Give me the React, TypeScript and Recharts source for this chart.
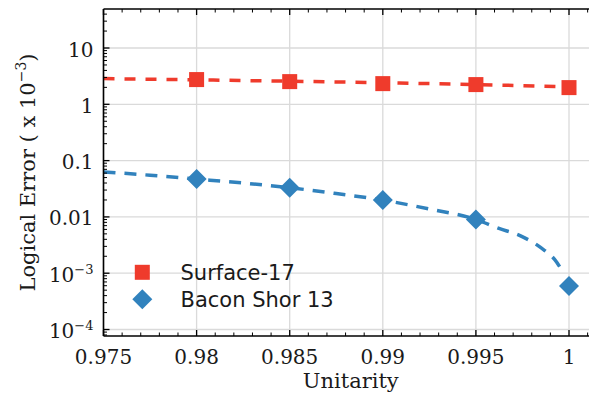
import React from 'react';
import { ComposedChart, Line, Scatter, XAxis, YAxis, CartesianGrid, ReferenceLine } from 'recharts';

// ---- data ----
const seriesNames = ['Surface-17', 'Bacon Shor 13'];
const unitarity = [0.98, 0.985, 0.99, 0.995, 1.0];
const surface17 = [2.75, 2.53, 2.33, 2.24, 1.98];
const baconShor13 = [0.047, 0.033, 0.0199, 0.009, 0.00059];

const surfaceFitX = [0.975, 0.98, 0.985, 0.99, 0.995, 1.0];
const surfaceFitY = [2.86, 2.72, 2.57, 2.42, 2.24, 2.05];

const baconFitX = [0.975, 0.9775, 0.98, 0.9825, 0.985, 0.9875, 0.99, 0.9925, 0.995, 0.9962, 0.9974, 0.99845, 0.99935, 0.9995];
const baconFitY = [0.063, 0.055, 0.047, 0.04, 0.033, 0.026, 0.0199, 0.0138, 0.009, 0.0063, 0.0046, 0.0029, 0.00155, 0.0013];

const xTicks = [0.975, 0.98, 0.985, 0.99, 0.995, 1.0];
const xTickLabels = ['0.975', '0.98', '0.985', '0.99', '0.995', '1'];
const xMinorTicks = [0.976, 0.977, 0.978, 0.979, 0.981, 0.982, 0.983, 0.984, 0.986, 0.987, 0.988, 0.989, 0.991, 0.992, 0.993, 0.994, 0.996, 0.997, 0.998, 0.999, 1.001];

const yTicks = [1e-4, 1e-3, 0.01, 0.1, 1, 10];
const yTickLabels = ['10^\u22124', '10^\u22123', '0.01', '0.1', '1', '10'];
const yMinorTicks = [
  8e-5, 9e-5,
  2e-4, 3e-4, 4e-4, 5e-4, 6e-4, 7e-4, 8e-4, 9e-4,
  2e-3, 3e-3, 4e-3, 5e-3, 6e-3, 7e-3, 8e-3, 9e-3,
  0.02, 0.03, 0.04, 0.05, 0.06, 0.07, 0.08, 0.09,
  0.2, 0.3, 0.4, 0.5, 0.6, 0.7, 0.8, 0.9,
  2, 3, 4, 5, 6, 7, 8, 9,
  20, 30, 40,
];

const xDomain: [number, number] = [0.975, 1.00145];
const yDomain: [number, number] = [7.67e-5, 49.3];

// ---- layout ----
const W = 589;
const H = 386;
const M_TOP = 1;
const M_RIGHT = 1;
const Y_AXIS_W = 95.5;
const X_AXIS_H = 58;

const RED = '#EF3B2C';
const BLUE = '#3182BD';
const seriesColors = [RED, BLUE];
const SERIF = 'DejaVu Serif';
const SANS = 'DejaVu Sans';
const INK = '#1a1a1a';

const surfacePoints = unitarity.map((x, i) => ({ x, y: surface17[i] }));
const baconPoints = unitarity.map((x, i) => ({ x, y: baconShor13[i] }));
const surfaceFit = surfaceFitX.map((x, i) => ({ x, y: surfaceFitY[i] }));
const baconFit = baconFitX.map((x, i) => ({ x, y: baconFitY[i] }));

const allXTicks = [...xTicks, ...xMinorTicks].sort((a, b) => a - b);
const allYTicks = [...yTicks, ...yMinorTicks].sort((a, b) => a - b);

const majorIndex = (v: number, majors: number[]) =>
  majors.findIndex((m) => Math.abs(m - v) <= Math.abs(m) * 1e-9 + 1e-12);

const SquareShape = (p: any) => (
  <rect x={p.cx - 7.5} y={p.cy - 7.5} width={15} height={15} fill={RED} />
);
const DiamondShape = (p: any) => (
  <polygon
    points={`${p.cx},${p.cy - 10} ${p.cx + 10},${p.cy} ${p.cx},${p.cy + 10} ${p.cx - 10},${p.cy}`}
    fill={BLUE}
  />
);

const MAJ = 6;
const MIN = 3.5;

// bottom axis tick: label (major only) + inward marks on bottom and top frame
const XTick = (p: any) => {
  const v = p.payload ? p.payload.value : 0;
  const mi = majorIndex(v, xTicks);
  const len = mi >= 0 ? MAJ : MIN;
  const sw = mi >= 0 ? 1.3 : 1;
  return (
    <g>
      <rect x={p.x - sw / 2} y={p.y - len} width={sw} height={len} fill="#000" />
      <rect x={p.x - sw / 2} y={M_TOP} width={sw} height={len} fill="#000" />
      {mi >= 0 && (
        <text x={p.x} y={p.y + 28} textAnchor="middle" fontFamily={SERIF} fontSize={20} fill={INK}>
          {xTickLabels[mi]}
        </text>
      )}
    </g>
  );
};

// left axis tick: label (major only) + inward marks on left and right frame
const YTick = (p: any) => {
  const v = p.payload ? p.payload.value : 0;
  const mi = majorIndex(v, yTicks);
  const len = mi >= 0 ? MAJ : MIN;
  const sw = mi >= 0 ? 1.3 : 1;
  const axisX = p.x + 10;
  const rightX = W - M_RIGHT;
  const lab = mi >= 0 ? yTickLabels[mi] : '';
  const [base, exp] = lab.split('^');
  return (
    <g>
      <rect x={axisX} y={p.y - sw / 2} width={len} height={sw} fill="#000" />
      <rect x={rightX - len} y={p.y - sw / 2} width={len} height={sw} fill="#000" />
      {mi >= 0 && (
        <text x={p.x} y={p.y + 8.5} textAnchor="end" fontFamily={SERIF} fontSize={20} fill={INK}>
          {base}
          {exp && (
            <tspan fontSize={13} dy={-8}>
              {exp}
            </tspan>
          )}
        </text>
      )}
    </g>
  );
};

// axis titles and legend, drawn in an overlay with the chart's own coordinates
const Overlay = () => {
  const plotCx = Y_AXIS_W + (W - M_RIGHT - Y_AXIS_W) / 2;
  const plotCy = M_TOP + (H - M_TOP - X_AXIS_H) / 2;
  return (
    <svg
      width={W}
      height={H}
      style={{ position: 'absolute', left: 0, top: 0, pointerEvents: 'none', overflow: 'visible' }}
    >
      <text
        transform={`translate(27,${plotCy}) rotate(-90)`}
        textAnchor="middle"
        fontFamily={SERIF}
        fontSize={21}
        fill={INK}
      >
        Logical Error ( x 10
        <tspan fontSize={14} dy={-9}>
          {'\u22123'}
        </tspan>
        <tspan dy={9}>)</tspan>
      </text>
      <text x={plotCx + 1} y={H - X_AXIS_H + 52} textAnchor="middle" fontFamily={SERIF} fontSize={21} fill={INK}>
        Unitarity
      </text>
      {seriesNames.map((name, i) => {
        const cx = 134.3;
        const cy = 264.3 + i * 27;
        return (
          <g key={name}>
            {i === 0 ? (
              <rect x={cx - 7.5} y={cy - 7.5} width={15} height={15} fill={seriesColors[i]} />
            ) : (
              <polygon points={`${cx},${cy - 10} ${cx + 10},${cy} ${cx},${cy + 10} ${cx - 10},${cy}`} fill={seriesColors[i]} />
            )}
            <text x={172.5} y={cy + 7.7} fontFamily={SANS} fontSize={21} fill={INK}>
              {name}
            </text>
          </g>
        );
      })}
    </svg>
  );
};

const axisLineStyle = { stroke: '#000', strokeWidth: 1.6 };

export default function App() {
  const GridAny: any = CartesianGrid;
  return (
    <div style={{ position: 'relative', width: W, height: H }}>
      <ComposedChart width={W} height={H} margin={{ top: M_TOP, right: M_RIGHT, left: 0, bottom: 0 }}>
        <GridAny
          xAxisId="xb"
          yAxisId="yl"
          stroke="#dadada"
          strokeWidth={1.3}
          fill="none"
          verticalValues={xTicks}
          horizontalValues={yTicks}
        />
        <XAxis
          xAxisId="xb"
          dataKey="x"
          type="number"
          domain={xDomain}
          allowDataOverflow
          ticks={allXTicks}
          interval={0}
          height={X_AXIS_H}
          tickSize={0}
          tickMargin={0}
          tickLine={false}
          axisLine={axisLineStyle}
          tick={<XTick />}
        />
        <YAxis
          yAxisId="yl"
          dataKey="y"
          type="number"
          scale="log"
          domain={yDomain}
          allowDataOverflow
          ticks={allYTicks}
          interval={0}
          width={Y_AXIS_W}
          tickSize={0}
          tickMargin={10}
          tickLine={false}
          axisLine={axisLineStyle}
          tick={<YTick />}
        />

        <ReferenceLine xAxisId="xb" yAxisId="yl" y={yDomain[1]} stroke="#000" strokeWidth={1.6} ifOverflow="visible" />
        <ReferenceLine xAxisId="xb" yAxisId="yl" x={xDomain[1]} stroke="#000" strokeWidth={1.6} ifOverflow="visible" />

        <Line xAxisId="xb" yAxisId="yl" data={surfaceFit} dataKey="y" type="monotone" stroke={RED} strokeWidth={3.5} strokeDasharray="11 10" dot={false} legendType="none" isAnimationActive={false} />
        <Line xAxisId="xb" yAxisId="yl" data={baconFit} dataKey="y" type="monotone" stroke={BLUE} strokeWidth={3.5} strokeDasharray="12 9" dot={false} legendType="none" isAnimationActive={false} />
        <Scatter xAxisId="xb" yAxisId="yl" name={seriesNames[0]} data={surfacePoints} dataKey="y" fill={RED} shape={SquareShape} isAnimationActive={false} />
        <Scatter xAxisId="xb" yAxisId="yl" name={seriesNames[1]} data={baconPoints} dataKey="y" fill={BLUE} shape={DiamondShape} isAnimationActive={false} />
      </ComposedChart>
      <Overlay />
    </div>
  );
}
